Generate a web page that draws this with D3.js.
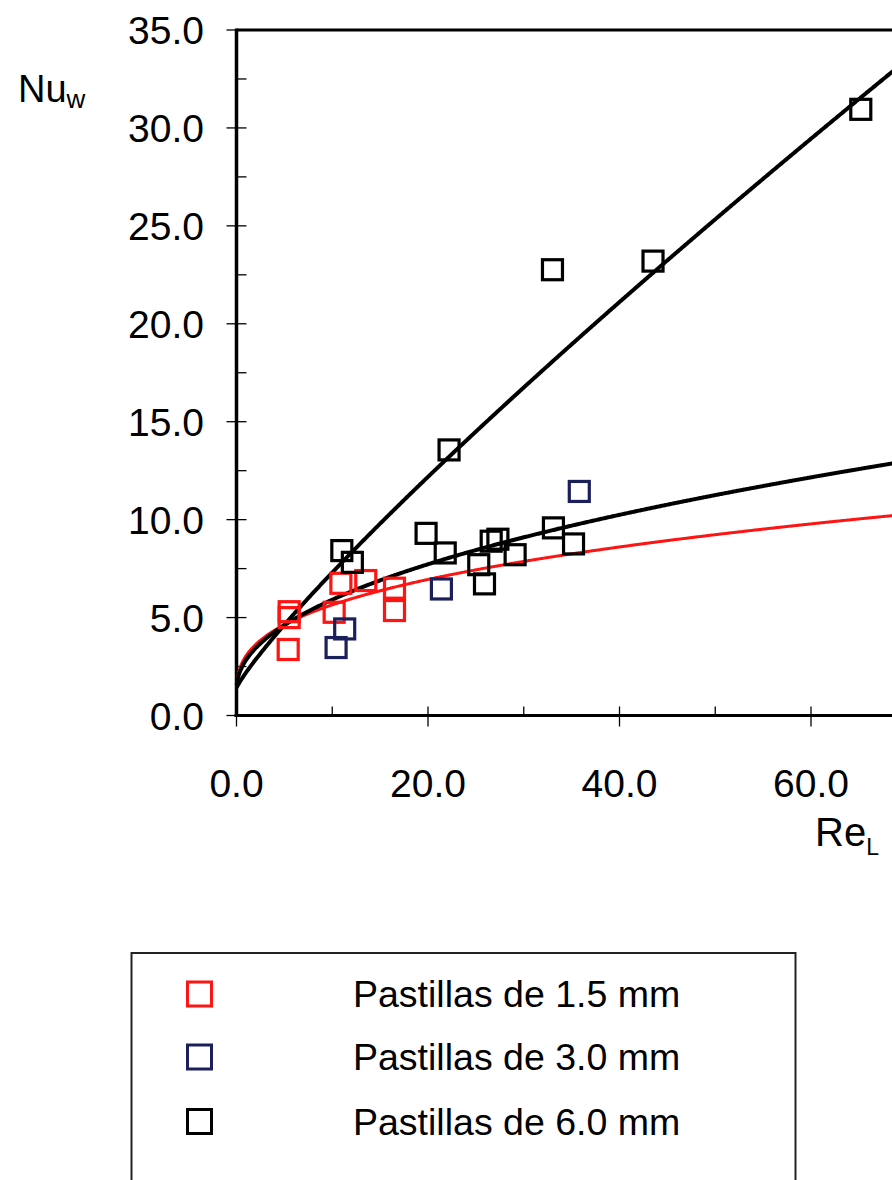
<!DOCTYPE html>
<html>
<head>
<meta charset="utf-8">
<script src="https://cdn.jsdelivr.net/npm/d3@7/dist/d3.min.js"></script>
<style>
  html, body { margin: 0; padding: 0; background: #fff; overflow: hidden; }
  svg { display: block; font-family: "Liberation Sans", Arial, sans-serif; }
</style>
</head>
<body>
<svg id="chart" width="892" height="1180"></svg>
<script>
// Wall Nusselt number vs. liquid Reynolds number, three pellet sizes
const seriesNames = ["Pastillas de 1.5 mm", "Pastillas de 3.0 mm", "Pastillas de 6.0 mm"];
const seriesColors = ["#ff1414", "#1b1f5c", "#000000"];

// measured points [Re_L, Nu_w]
const pellets15 = [[5.5, 5.3], [5.5, 5.0], [5.4, 3.37], [10.2, 5.27], [10.9, 6.75],
                   [13.5, 6.89], [16.5, 6.5], [16.5, 5.36]];
const pellets30 = [[10.4, 3.47], [11.3, 4.42], [21.4, 6.46], [35.8, 11.44]];
const pellets60 = [[11.0, 8.42], [12.1, 7.82], [19.8, 9.3], [21.8, 8.3], [25.3, 7.7],
                   [25.9, 6.72], [26.6, 8.9], [27.3, 9.0], [29.1, 8.21], [33.1, 9.58],
                   [35.2, 8.76], [22.2, 13.56], [33.0, 22.76], [43.5, 23.2], [65.2, 30.95]];

// fitted correlations Nu = c + a * Re^n  -> [c, a, n]
const fitRed = [1.0, 2.053, 0.355];
const fitBlackLow = [1.3, 1.534, 0.478];
const fitBlackHigh = [1.4, 0.796, 0.87];

const xTicks = [0, 20, 40, 60, 80];
const xTickLabels = ["0.0", "20.0", "40.0", "60.0"];
const yTicks = [0, 5, 10, 15, 20, 25, 30, 35];
const yTickLabels = ["0.0", "5.0", "10.0", "15.0", "20.0", "25.0", "30.0", "35.0"];

const svg = d3.select("#chart");
svg.append("rect").attr("width", 892).attr("height", 1180).attr("fill", "#fff");

const x = d3.scaleLinear().domain([0, 80]).range([236.5, 1002.5]);
const y = d3.scaleLinear().domain([0, 35]).range([715.5, 30]);

// plot frame (top border and right side run past the page edge)
svg.append("line").attr("x1", x(0)).attr("x2", x(80)).attr("y1", y(35)).attr("y2", y(35))
  .attr("stroke", "#000").attr("stroke-width", 3);

// y axis: major ticks crossing the axis, minor ticks inside
const yMinor = d3.range(2.5, 35, 5);
svg.append("g").selectAll("line.ymaj").data(yTicks).join("line")
  .attr("x1", x(0) - 10).attr("x2", x(0) + 10)
  .attr("y1", d => y(d)).attr("y2", d => y(d))
  .attr("stroke", "#000").attr("stroke-width", 1.3);
svg.append("g").selectAll("line.ymin").data(yMinor).join("line")
  .attr("x1", x(0)).attr("x2", x(0) + 10)
  .attr("y1", d => y(d)).attr("y2", d => y(d))
  .attr("stroke", "#000").attr("stroke-width", 1.3);
svg.append("line").attr("x1", x(0)).attr("x2", x(0)).attr("y1", y(35) - 1.5).attr("y2", y(0) + 1.5)
  .attr("stroke", "#000").attr("stroke-width", 3.5);
svg.append("g").selectAll("text").data(yTicks).join("text")
  .attr("x", 204).attr("y", d => y(d) + 14)
  .attr("text-anchor", "end").attr("font-size", 39).attr("fill", "#000")
  .text((d, i) => yTickLabels[i]);

// x axis
const xMinor = d3.range(10, 80, 20);
svg.append("g").selectAll("line.xmaj").data(xTicks).join("line")
  .attr("x1", d => x(d)).attr("x2", d => x(d))
  .attr("y1", y(0) - 9).attr("y2", y(0) + 11)
  .attr("stroke", "#000").attr("stroke-width", 1.3);
svg.append("g").selectAll("line.xmin").data(xMinor).join("line")
  .attr("x1", d => x(d)).attr("x2", d => x(d))
  .attr("y1", y(0) - 9).attr("y2", y(0))
  .attr("stroke", "#000").attr("stroke-width", 1.3);
svg.append("line").attr("x1", x(0) - 2).attr("x2", x(80)).attr("y1", y(0)).attr("y2", y(0))
  .attr("stroke", "#000").attr("stroke-width", 3);
svg.append("g").selectAll("text").data(xTickLabels).join("text")
  .attr("x", (d, i) => x(xTicks[i])).attr("y", 797)
  .attr("text-anchor", "middle").attr("font-size", 39).attr("fill", "#000")
  .text(d => d);

// axis titles
const nu = svg.append("text").attr("x", 18).attr("y", 102).attr("font-size", 38).attr("fill", "#000");
nu.append("tspan").text("Nu");
nu.append("tspan").attr("font-size", 26).attr("dy", 6).text("w");
const re = svg.append("text").attr("x", 815).attr("y", 846).attr("font-size", 40).attr("fill", "#000");
re.append("tspan").text("Re");
re.append("tspan").attr("font-size", 23).attr("dy", 9).text("L");

// fitted curves
const reSamples = d3.range(0.02, 80.01, 0.1);
const curve = p => d3.line()
  .x(r => x(r))
  .y(r => y(p[0] + p[1] * Math.pow(r, p[2])))(reSamples);
svg.append("path").attr("d", curve(fitRed)).attr("fill", "none")
  .attr("stroke", seriesColors[0]).attr("stroke-width", 3);
svg.append("path").attr("d", curve(fitBlackLow)).attr("fill", "none")
  .attr("stroke", "#000").attr("stroke-width", 4);
svg.append("path").attr("d", curve(fitBlackHigh)).attr("fill", "none")
  .attr("stroke", "#000").attr("stroke-width", 4);

// markers: open squares
const side = 20;
[pellets15, pellets30, pellets60].forEach((pts, i) => {
  svg.append("g").selectAll("rect").data(pts).join("rect")
    .attr("x", d => x(d[0]) - side / 2).attr("y", d => y(d[1]) - side / 2)
    .attr("width", side).attr("height", side)
    .attr("fill", "none").attr("stroke", seriesColors[i]).attr("stroke-width", 3.2);
});

// legend
svg.append("rect").attr("x", 131.5).attr("y", 953).attr("width", 664).attr("height", 260)
  .attr("fill", "none").attr("stroke", "#222").attr("stroke-width", 2);
const legendY = [994, 1057, 1121.5];
seriesNames.forEach((name, i) => {
  svg.append("rect").attr("x", 199.5 - 12).attr("y", legendY[i] - 12)
    .attr("width", 24).attr("height", 24)
    .attr("fill", "none").attr("stroke", seriesColors[i]).attr("stroke-width", 3);
  svg.append("text").attr("x", 353).attr("y", legendY[i] + 13)
    .attr("font-size", 37.5).attr("fill", "#000").text(name);
});
</script>
</body>
</html>
